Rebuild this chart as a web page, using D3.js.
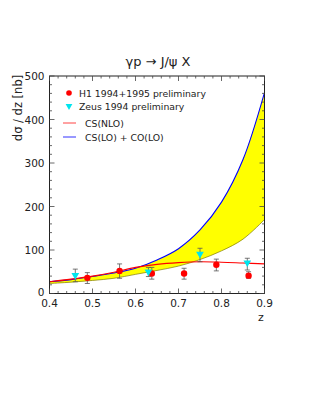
<!DOCTYPE html>
<html><head><meta charset="utf-8">
<script src="https://cdn.jsdelivr.net/npm/d3@7"></script>
<style>body{margin:0;background:#fff}svg{display:block}text{font-family:"DejaVu Sans",sans-serif}</style>
</head><body>
<script>
// Data
const curveZ   = [0.40,0.45,0.50,0.55,0.60,0.65,0.70,0.75,0.80,0.85,0.90];
const csloCoLo = [27,32,39,47,58,77,103,146,210,308,462];  // upper band edge (blue)
const bandLow  = [23,26,30,35,44,53,63,78,98,125,170];     // lower band edge
const csNlo    = [27,33,40,49,60,67,71,73,72,70,68];       // red line

const h1Z   = [0.488,0.563,0.638,0.713,0.788,0.863];
const h1Y   = [36,52,46,46,66,41];
const h1Lo  = [23,35,33,33,52,35];
const h1Hi  = [48,68,60,58,79,50];

const zeusZ  = [0.46,0.63,0.75,0.86];
const zeusY  = [42,50,91,71];
const zeusLo = [27,39,73,54];
const zeusHi = [56,60,104,81];

const xTicks = [0.4,0.5,0.6,0.7,0.8,0.9];
const yTicks = [0,100,200,300,400,500];

const W=311,H=402;
const svg=d3.select("body").append("svg").attr("width",W).attr("height",H);
const L=49.5,R=264.5,T=76,B=293.5;
const x=d3.scaleLinear().domain([0.4,0.9]).range([L,R]);
const y=d3.scaleLinear().domain([0,500]).range([B,T]);
svg.append("clipPath").attr("id","c").append("rect").attr("x",L).attr("y",T).attr("width",R-L).attr("height",B-T);
const g=svg.append("g").attr("clip-path","url(#c)");

// band
const band=curveZ.map((z,i)=>({z,hi:csloCoLo[i],lo:bandLow[i]}));
const cv=d3.curveCatmullRom.alpha(0.5);
g.append("path").datum(band)
 .attr("d",d3.area().x(d=>x(d.z)).y0(d=>y(d.lo)).y1(d=>y(d.hi)).curve(cv))
 .attr("fill","#ffff00");
g.append("path").datum(band)
 .attr("d",d3.line().x(d=>x(d.z)).y(d=>y(d.lo)).curve(cv))
 .attr("fill","none").attr("stroke","#807a00").attr("stroke-width",0.7);
g.append("path").datum(band)
 .attr("d",d3.line().x(d=>x(d.z)).y(d=>y(d.hi)).curve(cv))
 .attr("fill","none").attr("stroke","#0000ff").attr("stroke-width",1.1);
g.append("path").datum(curveZ.map((z,i)=>({z,v:csNlo[i]})))
 .attr("d",d3.line().x(d=>x(d.z)).y(d=>y(d.v)).curve(cv))
 .attr("fill","none").attr("stroke","#ff0000").attr("stroke-width",1.1);

// error bars
function errs(Z,Lo,Hi){
  Z.forEach((z,i)=>{
    const cx=x(z);
    g.append("line").attr("x1",cx).attr("x2",cx).attr("y1",y(Lo[i])).attr("y2",y(Hi[i])).attr("stroke","#555").attr("stroke-width",0.8);
    [Lo[i],Hi[i]].forEach(v=>g.append("line").attr("x1",cx-2.5).attr("x2",cx+2.5).attr("y1",y(v)).attr("y2",y(v)).attr("stroke","#555").attr("stroke-width",0.8));
  });
}
errs(h1Z,h1Lo,h1Hi);
errs(zeusZ,zeusLo,zeusHi);
h1Z.forEach((z,i)=>g.append("circle").attr("cx",x(z)).attr("cy",y(h1Y[i])).attr("r",3.2).attr("fill","#ff0000"));
const tri=d3.symbol().type(d3.symbolTriangle).size(26);
zeusZ.forEach((z,i)=>g.append("path").attr("d",tri).attr("transform",`translate(${x(z)},${y(zeusY[i])}) rotate(180)`).attr("fill","#00e5ee"));

// frame and ticks
svg.append("rect").attr("x",L).attr("y",T).attr("width",R-L).attr("height",B-T).attr("fill","none").attr("stroke","#222").attr("stroke-width",1);
const tk=svg.append("g").attr("stroke","#444").attr("stroke-width",0.8);
d3.range(0.4,0.9001,0.02).forEach((v,i)=>{
  const major=i%5===0, len=major?5:2.5, px=x(v);
  tk.append("line").attr("x1",px).attr("x2",px).attr("y1",B).attr("y2",B-len);
  tk.append("line").attr("x1",px).attr("x2",px).attr("y1",T).attr("y2",T+len);
});
d3.range(0,500.1,20).forEach((v,i)=>{
  const major=i%5===0, len=major?5:2.5, py=y(v);
  tk.append("line").attr("x1",L).attr("x2",L+len).attr("y1",py).attr("y2",py);
  tk.append("line").attr("x1",R).attr("x2",R-len).attr("y1",py).attr("y2",py);
});
xTicks.forEach(v=>svg.append("text").attr("x",x(v)).attr("y",B+13).attr("text-anchor","middle").attr("font-size",10.5).attr("fill","#222").text(v.toFixed(1)));
yTicks.forEach(v=>svg.append("text").attr("x",L-5).attr("y",v===0?y(v)+2:y(v)+4).attr("text-anchor","end").attr("font-size",10.5).attr("fill","#222").text(v));

svg.append("text").attr("x",261).attr("y",321).attr("text-anchor","middle").attr("font-size",11).attr("fill","#222").text("z");
svg.append("text").attr("transform","translate(22,108) rotate(-90)").attr("text-anchor","middle").attr("font-size",11.5).attr("fill","#222").text("dσ / dz [nb]");
svg.append("text").attr("x",158).attr("y",66).attr("text-anchor","middle").attr("font-size",13).attr("fill","#222").text("γp → J/ψ X");

// legend
svg.append("circle").attr("cx",69).attr("cy",93).attr("r",2.8).attr("fill","#ff0000");
svg.append("path").attr("d",d3.symbol().type(d3.symbolTriangle).size(20)).attr("transform","translate(69,106) rotate(180)").attr("fill","#00e5ee");
svg.append("line").attr("x1",63).attr("x2",76).attr("y1",123).attr("y2",123).attr("stroke","#ff4444").attr("stroke-width",1);
svg.append("line").attr("x1",63).attr("x2",76).attr("y1",137).attr("y2",137).attr("stroke","#3333ff").attr("stroke-width",1);
const lg=[["H1 1994+1995 preliminary",79,96.5],["Zeus 1994 preliminary",79,109.5],["CS(NLO)",85,126.5],["CS(LO) + CO(LO)",85,140.5]];
lg.forEach(d=>svg.append("text").attr("x",d[1]).attr("y",d[2]).attr("font-size",9.3).attr("fill","#222").text(d[0]));
</script>
</body></html>
